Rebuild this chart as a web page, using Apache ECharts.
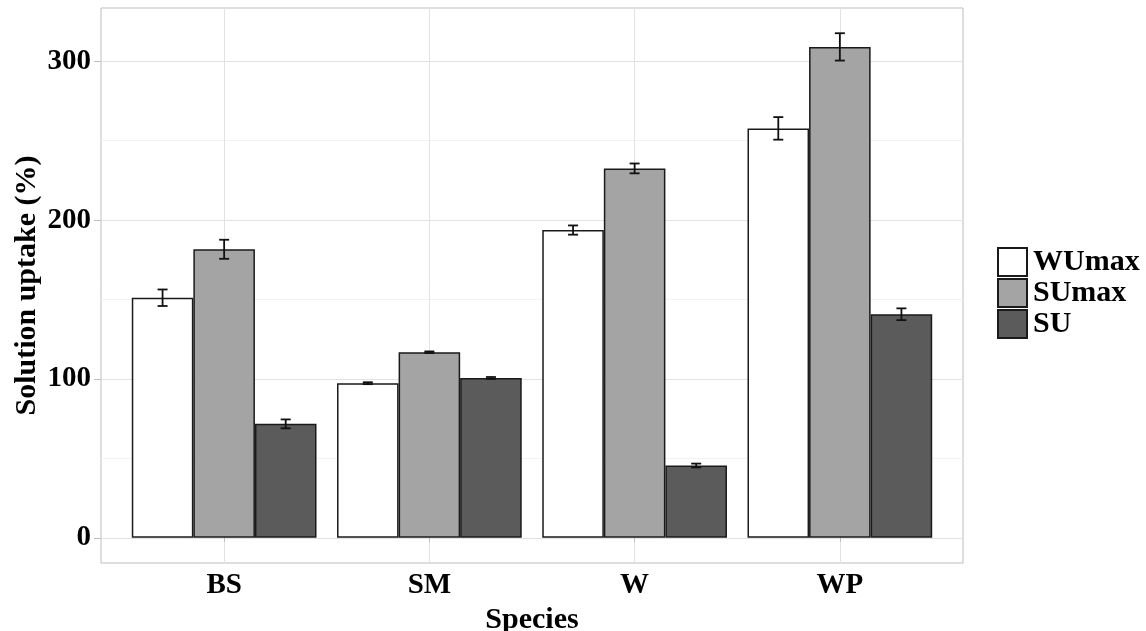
<!DOCTYPE html>
<html>
<head>
<meta charset="utf-8">
<script src="https://cdn.jsdelivr.net/npm/echarts@6/dist/echarts.min.js"></script>
<style>html,body{margin:0;padding:0;background:#fff;}#c{width:1146px;height:631px;}</style>
</head>
<body>
<div id="c"></div>
<script>
const categories = ['BS', 'SM', 'W', 'WP'];
const seriesNames = ['WUmax', 'SUmax', 'SU'];
const wuMax = [151.1, 97.3, 193.7, 257.7];
const wuMaxErr = [5.2, 0.6, 2.9, 7.1];
const suMax = [181.6, 116.8, 232.5, 309.0];
const suMaxErr = [6.0, 0.5, 3.1, 8.6];
const su = [71.7, 100.6, 45.5, 140.7];
const suErr = [2.8, 0.6, 1.2, 3.7];
const yTicks = [0, 100, 200, 300];
const yMinorTicks = [50, 150, 250];

const values = [wuMax, suMax, su];
const errors = [wuMaxErr, suMaxErr, suErr];
const fills = ['#ffffff', '#a4a4a4', '#5b5b5b'];
const FONT = "'Liberation Serif', 'Times New Roman', serif";
const catPos = categories.map((c, i) => i + 1);
const dodge = 0.3;

let yMaxData = 0;
values.forEach((arr, s) => arr.forEach((v, i) => { yMaxData = Math.max(yMaxData, v + errors[s][i]); }));
const expand = yMaxData * 0.05;

const series = [];
series.push({
  type: 'line', name: '_grid', data: [], z: 0, silent: true,
  markLine: {
    silent: true, symbol: 'none', z: 0, animation: false,
    label: { show: false },
    data: [
      ...yMinorTicks.map(v => ({ yAxis: v, lineStyle: { color: '#f0f0f0', width: 0.8, type: 'solid' } })),
      ...yTicks.map(v => ({ yAxis: v, lineStyle: { color: '#e2e2e2', width: 1, type: 'solid' } })),
      ...catPos.map(v => ({ xAxis: v, lineStyle: { color: '#e2e2e2', width: 1, type: 'solid' } }))
    ]
  }
});
values.forEach((arr, s) => {
  series.push({
    type: 'bar', name: seriesNames[s], z: 2,
    barWidth: '30%', barGap: '0%',
    itemStyle: { color: fills[s], borderColor: '#1a1a1a', borderWidth: 1.5 },
    data: arr.map((v, i) => [catPos[i], v]),
    animation: false
  });
});
values.forEach((arr, s) => {
  series.push({
    type: 'custom', name: '_err' + s, z: 5, silent: true, animation: false,
    data: arr.map((v, i) => [catPos[i] + (s - 1) * dodge, v - errors[s][i], v + errors[s][i]]),
    renderItem: function (params, api) {
      const x = api.value(0);
      const lo = api.coord([x, api.value(1)]);
      const hi = api.coord([x, api.value(2)]);
      const hw = 5;
      const st = { stroke: '#111', lineWidth: 1.8 };
      return {
        type: 'group', children: [
          { type: 'line', shape: { x1: lo[0], y1: lo[1], x2: hi[0], y2: hi[1] }, style: st },
          { type: 'line', shape: { x1: lo[0] - hw, y1: lo[1], x2: lo[0] + hw, y2: lo[1] }, style: st },
          { type: 'line', shape: { x1: hi[0] - hw, y1: hi[1], x2: hi[0] + hw, y2: hi[1] }, style: st }
        ]
      };
    }
  });
});

const chart = echarts.init(document.getElementById('c'), null, { renderer: 'canvas' });
chart.setOption({
  backgroundColor: '#ffffff',
  animation: false,
  grid: { left: 101, top: 8, width: 862, height: 555, show: true, borderColor: '#bdbdbd', borderWidth: 1, backgroundColor: '#ffffff', containLabel: false, outerBoundsMode: 'none' },
  legend: {
    data: seriesNames, orient: 'vertical', left: 992, top: 242,
    itemWidth: 29, itemHeight: 28, itemGap: 1, icon: 'rect',
    textStyle: { fontFamily: FONT, fontWeight: 'bold', fontSize: 30, color: '#000', lineHeight: 28, padding: [0, 0, 0, 1] },
    selectedMode: false
  },
  xAxis: {
    type: 'value', min: 0.4, max: 4.6,
    axisLine: { show: false },
    splitLine: { show: false },
    axisTick: { show: true, customValues: catPos, length: 4, lineStyle: { color: '#bdbdbd' } },
    axisLabel: {
      customValues: catPos, margin: 8,
      formatter: v => categories[Math.round(v) - 1] || '',
      fontFamily: FONT, fontWeight: 'bold', fontSize: 29, color: '#000'
    },
    name: 'Species', nameLocation: 'middle', nameGap: 35,
    nameTextStyle: { fontFamily: FONT, fontWeight: 'bold', fontSize: 30, color: '#000' }
  },
  yAxis: {
    type: 'value', min: -expand, max: yMaxData + expand,
    axisLine: { show: false },
    splitLine: { show: false },
    axisTick: { show: true, customValues: yTicks, length: 7, lineStyle: { color: '#bdbdbd' } },
    axisLabel: {
      customValues: yTicks, margin: 10,
      fontFamily: FONT, fontWeight: 'bold', fontSize: 29, color: '#000'
    },
    name: 'Solution uptake (%)', nameLocation: 'middle', nameGap: 59, nameMoveOverlap: false,
    nameTextStyle: { fontFamily: FONT, fontWeight: 'bold', fontSize: 30, color: '#000' }
  },
  series: series
});
</script>
</body>
</html>
